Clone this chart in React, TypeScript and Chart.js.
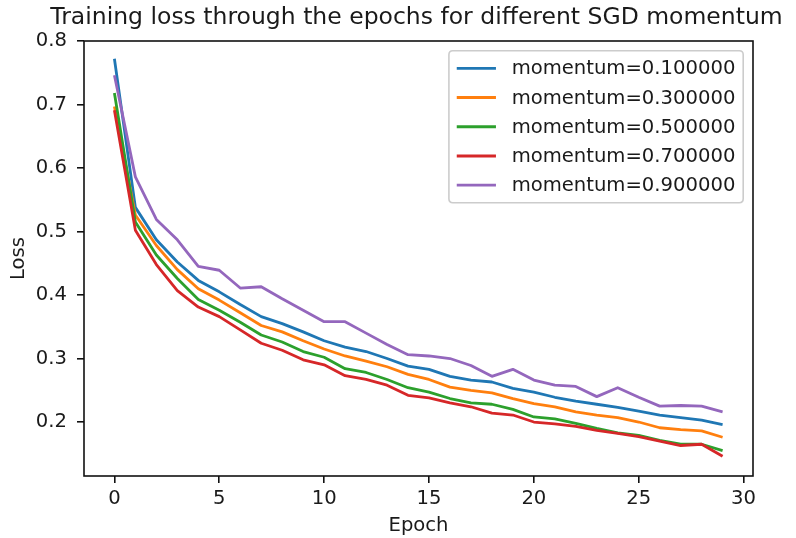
import React, { useEffect, useRef } from 'react';
import { Chart, registerables } from 'chart.js';

Chart.register(...registerables);

const epochs = [0, 1, 2, 3, 4, 5, 6, 7, 8, 9, 10, 11, 12, 13, 14, 15, 16, 17, 18, 19, 20, 21, 22, 23, 24, 25, 26, 27, 28, 29];

const seriesLabels = ['momentum=0.100000', 'momentum=0.300000', 'momentum=0.500000', 'momentum=0.700000', 'momentum=0.900000'];

const lossM01 = [0.772, 0.538, 0.487, 0.452, 0.423, 0.405, 0.385, 0.366, 0.355, 0.342, 0.328, 0.318, 0.311, 0.300, 0.288, 0.283, 0.272, 0.266, 0.263, 0.253, 0.247, 0.239, 0.233, 0.228, 0.223, 0.217, 0.211, 0.207, 0.203, 0.196];
const lossM03 = [0.697, 0.526, 0.478, 0.440, 0.410, 0.392, 0.372, 0.352, 0.342, 0.328, 0.315, 0.304, 0.296, 0.287, 0.275, 0.267, 0.255, 0.250, 0.246, 0.237, 0.229, 0.224, 0.216, 0.211, 0.207, 0.200, 0.191, 0.188, 0.186, 0.176];
const lossM05 = [0.718, 0.515, 0.463, 0.426, 0.393, 0.376, 0.357, 0.337, 0.326, 0.311, 0.302, 0.284, 0.278, 0.267, 0.254, 0.247, 0.237, 0.230, 0.228, 0.220, 0.208, 0.205, 0.198, 0.190, 0.183, 0.179, 0.171, 0.165, 0.165, 0.155];
const lossM07 = [0.691, 0.502, 0.448, 0.407, 0.381, 0.366, 0.345, 0.324, 0.313, 0.298, 0.290, 0.273, 0.267, 0.258, 0.242, 0.238, 0.230, 0.224, 0.214, 0.211, 0.200, 0.197, 0.193, 0.187, 0.182, 0.177, 0.170, 0.163, 0.165, 0.146];
const lossM09 = [0.746, 0.586, 0.519, 0.487, 0.445, 0.439, 0.411, 0.413, 0.394, 0.376, 0.358, 0.358, 0.340, 0.322, 0.306, 0.304, 0.300, 0.289, 0.272, 0.283, 0.266, 0.258, 0.256, 0.240, 0.254, 0.239, 0.225, 0.226, 0.225, 0.216];

const xTicks = [0, 5, 10, 15, 20, 25, 30];
const yTicks = [0.2, 0.3, 0.4, 0.5, 0.6, 0.7, 0.8];

const titleText = 'Training loss through the epochs for different SGD momentum';
const xLabel = 'Epoch';
const yLabel = 'Loss';

const colors = ['#1f77b4', '#ff7f0e', '#2ca02c', '#d62728', '#9467bd'];
const FONT = '"DejaVu Sans", sans-serif';
const FS = 19.6;
const TEXT = '#1a1a1a';

const overlayPlugin = {
  id: 'overlay',
  afterDatasetsDraw(chart: any) {
    const { ctx, chartArea: ca } = chart;
    ctx.save();
    ctx.strokeStyle = '#111';
    ctx.lineWidth = 1.6;
    ctx.strokeRect(ca.left, ca.top, ca.right - ca.left, ca.bottom - ca.top);

    ctx.fillStyle = TEXT;
    ctx.font = `23.5px ${FONT}`;
    ctx.textAlign = 'center';
    ctx.textBaseline = 'alphabetic';
    ctx.fillText(titleText, (ca.left + ca.right) / 2 - 2, 24);

    const ds = chart.data.datasets;
    ctx.font = `${FS}px ${FONT}`;
    let textW = 0;
    ds.forEach((d: any) => { textW = Math.max(textW, ctx.measureText(d.label).width); });
    const pad = 0.4 * FS, handleLen = 2 * FS, handlePad = 0.8 * FS, labelSp = 0.5 * FS, axPad = 0.5 * FS;
    const rowH = 19.4;
    const boxW = 2 * pad + handleLen + handlePad + textW;
    const boxH = 2 * pad + ds.length * rowH + (ds.length - 1) * labelSp;
    const x0 = ca.right - axPad - boxW;
    const y0 = ca.top + axPad;
    const r = 0.2 * FS;
    ctx.beginPath();
    ctx.moveTo(x0 + r, y0);
    ctx.lineTo(x0 + boxW - r, y0);
    ctx.quadraticCurveTo(x0 + boxW, y0, x0 + boxW, y0 + r);
    ctx.lineTo(x0 + boxW, y0 + boxH - r);
    ctx.quadraticCurveTo(x0 + boxW, y0 + boxH, x0 + boxW - r, y0 + boxH);
    ctx.lineTo(x0 + r, y0 + boxH);
    ctx.quadraticCurveTo(x0, y0 + boxH, x0, y0 + boxH - r);
    ctx.lineTo(x0, y0 + r);
    ctx.quadraticCurveTo(x0, y0, x0 + r, y0);
    ctx.closePath();
    ctx.fillStyle = 'rgba(255,255,255,0.8)';
    ctx.fill();
    ctx.strokeStyle = '#cccccc';
    ctx.lineWidth = 1.6;
    ctx.stroke();
    ds.forEach((d: any, i: number) => {
      const cy = y0 + pad + i * (rowH + labelSp) + rowH / 2;
      ctx.beginPath();
      ctx.moveTo(x0 + pad, cy);
      ctx.lineTo(x0 + pad + handleLen, cy);
      ctx.strokeStyle = d.borderColor;
      ctx.lineWidth = 2.9;
      ctx.stroke();
      ctx.fillStyle = TEXT;
      ctx.textAlign = 'left';
      ctx.textBaseline = 'middle';
      ctx.fillText(d.label, x0 + pad + handleLen + handlePad, cy + 1);
    });
    ctx.restore();
  },
};

export default function App() {
  const ref = useRef<HTMLCanvasElement | null>(null);
  useEffect(() => {
    if (!ref.current) return;
    const allSeries = [lossM01, lossM03, lossM05, lossM07, lossM09];
    const chart = new Chart(ref.current, {
      type: 'line',
      data: {
        datasets: allSeries.map((s, i) => ({
          label: seriesLabels[i],
          data: epochs.map((e, j) => ({ x: e, y: s[j] })),
          borderColor: colors[i],
          backgroundColor: colors[i],
          borderWidth: 2.8,
          pointRadius: 0,
          tension: 0,
          fill: false,
          order: allSeries.length - 1 - i,
          borderJoinStyle: 'round' as const,
        })),
      },
      options: {
        responsive: false,
        animation: false,
        devicePixelRatio: 1,
        layout: { padding: { left: 0, right: 43, top: 41, bottom: 0 } },
        plugins: { legend: { display: false }, tooltip: { enabled: false }, title: { display: false } },
        scales: {
          x: {
            type: 'linear',
            min: -1.45,
            max: 30.45,
            afterBuildTicks: (s: any) => { s.ticks = xTicks.map((v) => ({ value: v })); },
            afterFit: (s: any) => { s.height = 62; },
            grid: { drawOnChartArea: false, drawTicks: true, tickLength: 7, color: '#111', lineWidth: 1.6 },
            border: { display: false },
            ticks: { font: { family: FONT, size: FS }, color: TEXT, padding: 4, maxRotation: 0, callback: (v: any) => String(v) },
            title: { display: true, text: xLabel, font: { family: FONT, size: FS }, color: TEXT, padding: { top: 0, bottom: 0 } },
          },
          y: {
            type: 'linear',
            min: 0.115,
            max: 0.8,
            afterBuildTicks: (s: any) => { s.ticks = yTicks.map((v) => ({ value: v })); },
            afterFit: (s: any) => { s.width = 84; },
            grid: { drawOnChartArea: false, drawTicks: true, tickLength: 7, color: '#111', lineWidth: 1.6 },
            border: { display: false },
            ticks: { font: { family: FONT, size: FS }, color: TEXT, padding: 10, callback: (v: any) => Number(v).toFixed(1) },
            title: { display: true, text: yLabel, font: { family: FONT, size: FS }, color: TEXT, padding: { top: 7, bottom: 0 } },
          },
        },
      },
      plugins: [overlayPlugin],
    });
    return () => chart.destroy();
  }, []);
  return (
    <div style={{ position: 'fixed', left: 0, top: 0, width: 796, height: 538, background: '#fff' }}>
      <canvas ref={ref} width={796} height={538} />
    </div>
  );
}
